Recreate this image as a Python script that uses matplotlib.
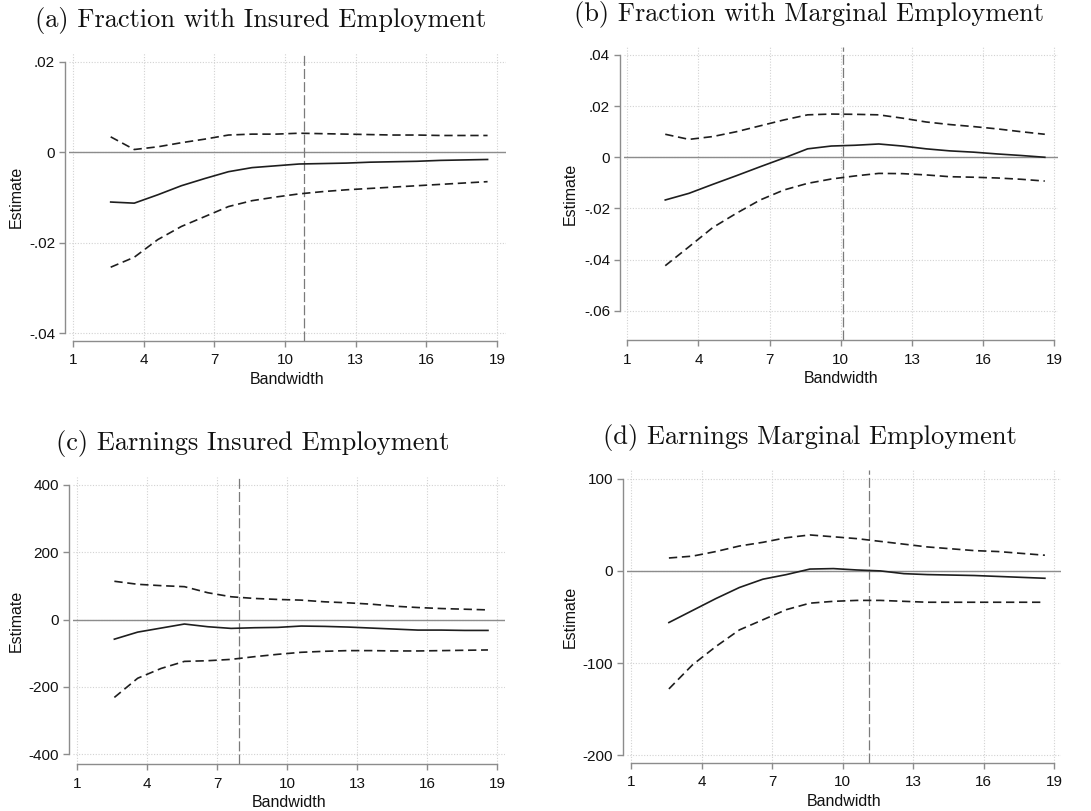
import matplotlib
matplotlib.use("Agg")
import matplotlib.pyplot as plt

plt.rcParams["font.family"] = ["Liberation Sans", "DejaVu Sans"]
plt.rcParams["axes.unicode_minus"] = False

# bandwidth grid (same for all panels)
bw = [2.6, 3.6, 4.6, 5.6, 6.6, 7.6, 8.6, 9.6, 10.6, 11.6, 12.6, 13.6, 14.6, 15.6, 16.6, 17.6, 18.6]

# (a) fraction with insured employment
a_est = [-0.0110, -0.01125, -0.0094, -0.0074, -0.0058, -0.0043, -0.0034, -0.0030, -0.0026,
         -0.0025, -0.0024, -0.0022, -0.0021, -0.0020, -0.0018, -0.0017, -0.0016]
a_hi = [0.0034, 0.0006, 0.0012, 0.0021, 0.0029, 0.0038, 0.0040, 0.0040, 0.0042,
        0.0041, 0.0040, 0.0039, 0.0038, 0.0038, 0.0037, 0.0037, 0.0037]
a_lo = [-0.0254, -0.0232, -0.0193, -0.0164, -0.0142, -0.0120, -0.0107, -0.0099, -0.0092,
        -0.0087, -0.0083, -0.0080, -0.0077, -0.0074, -0.0071, -0.0068, -0.0065]

# (b) fraction with marginal employment
b_est = [-0.0167, -0.0141, -0.0106, -0.0072, -0.0037, -0.0003, 0.0033, 0.0044, 0.0047,
         0.0052, 0.0044, 0.0033, 0.0025, 0.0020, 0.0013, 0.0007, 0.0000]
b_hi = [0.0090, 0.0070, 0.0081, 0.0100, 0.0123, 0.0146, 0.0166, 0.0169, 0.0168,
        0.0166, 0.0153, 0.0138, 0.0128, 0.0120, 0.0111, 0.0100, 0.0090]
b_lo = [-0.0424, -0.0350, -0.0275, -0.0219, -0.0167, -0.0128, -0.0102, -0.0085, -0.0073,
        -0.0063, -0.0064, -0.0069, -0.0076, -0.0078, -0.0081, -0.0086, -0.0093]

# (c) earnings insured employment
c_est = [-58, -37, -25, -13, -21, -26, -24, -23, -19, -20, -22, -25, -28, -31, -31, -32, -32]
c_hi = [114, 105, 101, 98, 80, 68, 63, 60, 58, 53, 50, 46, 40, 36, 33, 31, 29]
c_lo = [-231, -174, -145, -124, -122, -118, -110, -103, -97, -94, -92, -92, -93, -93, -92, -91, -90]

# (d) earnings marginal employment
d_est = [-56, -43, -30, -18, -9, -4, 2, 2.5, 1, 0, -3, -4, -4.5, -5, -6, -7, -8]
d_hi = [14, 16, 21, 27, 31, 36, 39, 37, 35, 32, 29, 26, 24, 22, 21, 19, 17]
d_lo = [-128, -102, -82, -64, -53, -42, -35, -33, -32, -32, -33, -34, -34, -34, -34, -34, -34]

titles = ["(a) Fraction with Insured Employment", "(b) Fraction with Marginal Employment",
          "(c) Earnings Insured Employment", "(d) Earnings Marginal Employment"]
opt_bw = [10.82, 10.1, 7.95, 11.11]

x_ticks = [1, 4, 7, 10, 13, 16, 19]
a_yticks = [-0.04, -0.02, 0, 0.02]
a_ylabels = ["-.04", "-.02", "0", ".02"]
b_yticks = [-0.06, -0.04, -0.02, 0, 0.02, 0.04]
b_ylabels = ["-.06", "-.04", "-.02", "0", ".02", ".04"]
c_yticks = [-400, -200, 0, 200, 400]
c_ylabels = ["-400", "-200", "0", "200", "400"]
d_yticks = [-200, -100, 0, 100]
d_ylabels = ["-200", "-100", "0", "100"]

W, H = 1091, 811
fig = plt.figure(figsize=(W / 100, H / 100), dpi=100)

# plot regions in pixels: left, right, top, bottom ; plus axis pixel mapping
panels = [
    dict(box=(69, 506, 53, 341), x1=73, x19=497, yref=((0.02, 61.7), (-0.04, 333.3)),
         est=a_est, hi=a_hi, lo=a_lo, yt=a_yticks, yl=a_ylabels, title_xy=(261, 20), ylab_x=24),
    dict(box=(624, 1058, 47, 340), x1=627.3, x19=1054.3, yref=((0.04, 55.0), (-0.06, 310.7)),
         est=b_est, hi=b_hi, lo=b_lo, yt=b_yticks, yl=b_ylabels, title_xy=(809, 14), ylab_x=578),
    dict(box=(73, 505, 477, 764), x1=77, x19=497.3, yref=((400, 485.0), (-400, 754.3)),
         est=c_est, hi=c_hi, lo=c_lo, yt=c_yticks, yl=c_ylabels, title_xy=(253, 443), ylab_x=24),
    dict(box=(627, 1061, 470, 763), x1=631.3, x19=1054.3, yref=((100, 478.7), (-200, 755.3)),
         est=d_est, hi=d_hi, lo=d_lo, yt=d_yticks, yl=d_ylabels, title_xy=(810, 437), ylab_x=578),
]

C_LINE = "#1e1e1e"
C_AXIS = "#8c8c8c"
C_GRID = "#d2d2d2"

for i, p in enumerate(panels):
    l, r, t, b = p["box"]
    ax = fig.add_axes([l / W, 1 - b / H, (r - l) / W, (b - t) / H])
    # data limits from pixel mapping
    sx = (p["x19"] - p["x1"]) / 18.0
    (yv1, yp1), (yv2, yp2) = p["yref"]
    sy = (yp2 - yp1) / (yv2 - yv1)
    ax.set_xlim(1 + (l - p["x1"]) / sx, 1 + (r - p["x1"]) / sx)
    ax.set_ylim(yv1 + (b - yp1) / sy, yv1 + (t - yp1) / sy)

    for xt in x_ticks:
        ax.axvline(xt, color=C_GRID, lw=0.8, ls=(0, (1, 1.5)), zorder=0)
    for yt in p["yt"]:
        ax.axhline(yt, color=C_GRID, lw=0.8, ls=(0, (1, 1.5)), zorder=0)

    ax.axhline(0, color=C_AXIS, lw=1.0, zorder=1)
    ax.axvline(opt_bw[i], color="#7a7a7a", lw=0.9, ls=(0, (8, 2.5)), zorder=1)

    ax.plot(bw, p["hi"], color=C_LINE, lw=1.2, ls=(0, (5, 2.8)), zorder=3)
    ax.plot(bw, p["lo"], color=C_LINE, lw=1.2, ls=(0, (5, 2.8)), zorder=3)
    ax.plot(bw, p["est"], color=C_LINE, lw=1.2, zorder=3)

    ax.set_xticks(x_ticks)
    ax.set_xticklabels([str(v) for v in x_ticks])
    ax.set_yticks(p["yt"])
    ax.set_yticklabels(p["yl"])

    for s in ("top", "right"):
        ax.spines[s].set_visible(False)
    ax.spines["left"].set_bounds(min(p["yt"]), max(p["yt"]))
    ax.spines["left"].set_position(("outward", 3))
    ax.spines["bottom"].set_bounds(1, 19)
    for s in ("left", "bottom"):
        ax.spines[s].set_color(C_AXIS)
        ax.spines[s].set_linewidth(1.0)
    ax.tick_params(axis="both", colors=C_AXIS, length=4, width=1.0, labelsize=11,
                   labelcolor="#111111")
    ax.tick_params(axis="x", pad=5)
    ax.tick_params(axis="y", pad=3)

    ax.set_xlabel("Bandwidth", fontsize=11.5, color="#111111", labelpad=3)
    ax.set_ylabel("Estimate", fontsize=11.5, color="#111111")
    ax.yaxis.set_label_coords((p["ylab_x"] - l) / (r - l), 0.5)
    ax.patch.set_alpha(0)

    tx, ty = p["title_xy"]
    fig.text(tx / W, 1 - ty / H, titles[i], family="cmr10", fontsize=19,
             ha="center", va="center", color="#111111")

fig.savefig("out.png", dpi=100)
